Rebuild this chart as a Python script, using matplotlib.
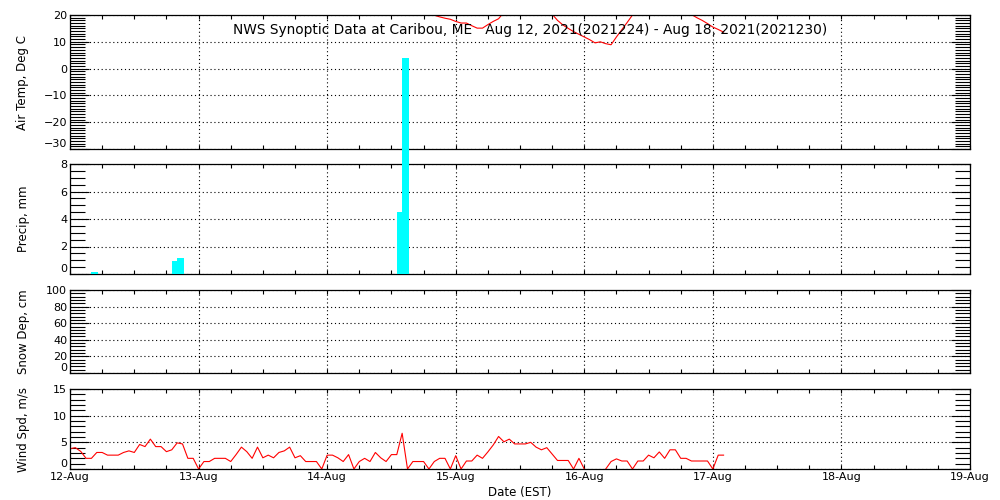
# Recreation of the NWS synoptic data plot for Caribou, ME (Aug 12-18 2021)
import numpy as np
import matplotlib
matplotlib.use('Agg')
import matplotlib.pyplot as plt
from matplotlib.ticker import MultipleLocator

# ---- data (x values are hours after 12-Aug 00:00 EST) ----
day_labels = ['12-Aug', '13-Aug', '14-Aug', '15-Aug',
              '16-Aug', '17-Aug', '18-Aug', '19-Aug']

title_text = ('NWS Synoptic Data at Caribou, ME   '
              'Aug 12, 2021(2021224) - Aug 18, 2021(2021230)')

# air temperature, only the night-time dips come below the 20 C axis top
temp_hours_1 = np.arange(65, 84)
temp_vals_1 = [23.5, 22.0, 20.7, 19.9, 19.3, 18.8, 18.4, 17.6, 17.0, 17.0,
               16.0, 15.1, 15.1, 16.4, 17.6, 18.6, 21.0, 23.0, 24.5]
temp_hours_2 = np.arange(88, 108)
temp_vals_2 = [23.0, 21.5, 20.3, 18.0, 16.3, 15.0, 13.8, 12.8, 11.8, 10.8,
               9.6, 10.0, 9.3, 8.9, 11.8, 14.5, 17.2, 20.0, 23.0, 25.0]
temp_hours_3 = np.arange(113, 123)
temp_vals_3 = [24.0, 22.5, 21.3, 20.2, 19.0, 18.0, 16.8, 15.5, 14.6, 13.6]

# hourly precipitation, mm
precip_hours = [4, 19, 20, 61, 62]
precip_vals = [0.15, 0.95, 1.15, 4.5, 15.7]

# hourly wind speed, m/s (nan = missing report)
wind_hours = np.arange(0, 123)
wind_vals = [3.8, 4.0, 3.3, 2.0, 2.0, 3.1, 3.1, 2.6, 2.6, 2.6,
             3.1, 3.4, 3.1, 4.6, 4.2, 5.6, 4.2, 4.2, 3.25, 3.6,
             4.9, 4.7, 2.0, 2.0, 0.0, 1.4, 1.4, 2.0, 2.0, 2.0,
             1.4, 2.7, 4.1, 3.25, 2.0, 4.1, 2.1, 2.6, 2.1, 3.1,
             3.4, 4.1, 2.1, 2.5, 1.4, 1.4, 1.4, 0.0, 2.6, 2.6,
             2.1, 1.4, 2.7, 0.0, 1.4, 2.0, 1.4, 3.1, 2.1, 1.4,
             2.7, 2.7, 6.7, 0.0, 1.4, 1.4, 1.4, 0.0, 1.4, 2.0,
             2.0, 0.0, 2.5, 0.0, 1.5, 1.5, 2.6, 2.0, 3.2, 4.5,
             6.1, 5.1, 5.6, 4.7, 4.7, 4.7, 5.0, 4.1, 3.6, 4.0,
             2.8, 1.6, 1.6, 1.6, 0.0, 2.0, 0.0, np.nan, np.nan, np.nan,
             0.0, 1.4, 1.9, 1.5, 1.5, 0.0, 1.5, 1.5, 2.6, 2.1,
             3.2, 2.0, 3.6, 3.6, 2.0, 2.0, 1.5, 1.5, 1.5, 1.5,
             0.0, 2.6, 2.6]


def style_panel(ax, ymin, ymax, major, minor, ylabel, show_dates=False):
    '''Axis limits, IDL-like long inward ticks and dotted grid.'''
    ax.set_xlim(0, 168)
    ax.set_ylim(ymin, ymax)

    ax.xaxis.set_major_locator(MultipleLocator(24))
    ax.xaxis.set_minor_locator(MultipleLocator(6))
    ax.yaxis.set_major_locator(MultipleLocator(major))
    ax.yaxis.set_minor_locator(MultipleLocator(minor))

    ax.tick_params(axis='x', which='both', direction='in', top=True,
                   bottom=True, length=3, width=0.8, labelsize=8, pad=2)
    ax.tick_params(axis='y', which='major', direction='in', left=True,
                   right=True, length=14, width=0.8, labelsize=8, pad=2)
    ax.tick_params(axis='y', which='minor', direction='in', left=True,
                   right=True, length=11, width=0.8)

    if show_dates:
        ax.set_xticks(np.arange(0, 169, 24))
        ax.set_xticklabels(day_labels)
    else:
        ax.set_xticklabels([])

    # the lowest y label sits just above the bottom axis, as in the original
    ticks = ax.yaxis.get_major_ticks()
    for tick, loc in zip(ticks, ax.yaxis.get_majorticklocs()):
        if abs(loc - ymin) < 1e-9:
            tick.label1.set_va('bottom')

    ax.grid(True, which='major', color='black',
            linestyle=(0, (1, 2.5)), linewidth=0.8)
    ax.set_ylabel(ylabel, fontsize=8.5)
    ax.yaxis.set_label_coords(-0.045, 0.5)
    for sp in ax.spines.values():
        sp.set_linewidth(0.9)


def main():
    fig = plt.figure(figsize=(10, 5), dpi=100)

    ax_t = fig.add_axes([0.07, 0.702, 0.9, 0.268])
    ax_p = fig.add_axes([0.07, 0.452, 0.9, 0.22])
    ax_s = fig.add_axes([0.07, 0.254, 0.9, 0.166])
    ax_w = fig.add_axes([0.07, 0.062, 0.9, 0.16])

    # Air temperature
    for hrs, vals in [(temp_hours_1, temp_vals_1),
                      (temp_hours_2, temp_vals_2),
                      (temp_hours_3, temp_vals_3)]:
        ax_t.plot(hrs, vals, color='red', linewidth=0.8)
    style_panel(ax_t, -30, 20, 10, 1, 'Air Temp, Deg C')

    # Precipitation, the big bar runs up into the panel above (no clipping)
    ax_p.bar(precip_hours, precip_vals, width=1.3, align='edge',
             color='#00ffff', zorder=5, clip_on=False)
    style_panel(ax_p, 0, 8, 2, 0.5, 'Precip, mm')

    # Snow depth, no data
    style_panel(ax_s, 0, 100, 20, 4, 'Snow Dep, cm')

    # Wind speed
    ax_w.plot(wind_hours, wind_vals, color='red', linewidth=0.8)
    style_panel(ax_w, 0, 15, 5, 1, 'Wind Spd, m/s', show_dates=True)
    ax_w.set_xlabel('Date (EST)', fontsize=8.5, labelpad=3)

    fig.text(0.53, 0.94, title_text, ha='center', va='center', fontsize=9.9)

    fig.savefig('out.png', dpi=100)


if __name__ == '__main__':
    main()
